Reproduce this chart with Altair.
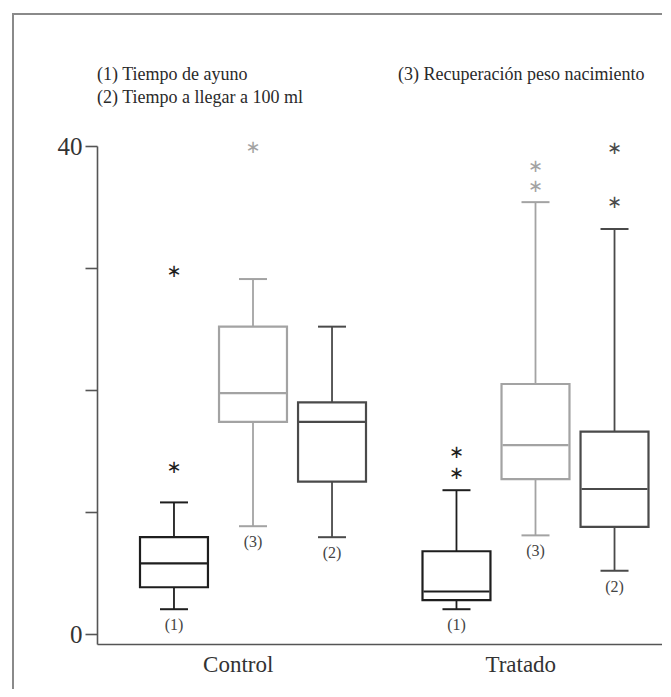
import altair as alt
import pandas as pd

# ---- data ----
groups = ["Control", "Control", "Control", "Tratado", "Tratado", "Tratado"]
series = ["(1)", "(3)", "(2)", "(1)", "(3)", "(2)"]
whisker_low = [2.05, 8.85, 7.95, 2.05, 8.1, 5.2]
q1 = [3.85, 17.4, 12.5, 2.8, 12.7, 8.8]
median = [5.8, 19.75, 17.4, 3.5, 15.5, 11.9]
q3 = [7.95, 25.2, 19.0, 6.8, 20.5, 16.6]
whisker_high = [10.8, 29.1, 25.2, 11.8, 35.4, 33.2]

outlier_group = ["Control", "Control", "Control", "Tratado", "Tratado",
                 "Tratado", "Tratado", "Tratado", "Tratado"]
outlier_series = ["(1)", "(1)", "(3)", "(1)", "(1)", "(3)", "(3)", "(2)", "(2)"]
outlier_value = [13.7, 29.8, 39.9, 13.2, 14.9, 36.7, 38.4, 35.4, 39.8]

legend_lines = ["(1) Tiempo de ayuno",
                "(2) Tiempo a llegar a 100 ml",
                "(3) Recuperación peso nacimiento"]
group_order = ["Control", "Tratado"]
series_order = ["(1)", "(3)", "(2)"]
y_ticks = [0, 10, 20, 30, 40]

# ---- tables ----
boxes = pd.DataFrame({"group": groups, "series": series, "lo": whisker_low,
                      "q1": q1, "med": median, "q3": q3, "hi": whisker_high})
outl = pd.DataFrame({"group": outlier_group, "series": outlier_series,
                     "value": outlier_value})

SERIF = "Liberation Serif"
AX = "#555555"

x_enc = alt.X("group:N",
              scale=alt.Scale(domain=group_order, paddingInner=0, paddingOuter=0),
              axis=alt.Axis(title=None, labelAngle=0, ticks=False,
                            labelFont=SERIF, labelFontSize=23, labelColor="#333333",
                            labelPadding=9, domainColor=AX, domainWidth=1.6))
xo_enc = alt.XOffset("series:N",
                     scale=alt.Scale(domain=series_order, range=[43, 269],
                                     paddingInner=0.14, paddingOuter=0))
y_scale = alt.Scale(domain=[-0.8, 40], nice=False, zero=False)
y_axis = alt.Axis(title=None, values=y_ticks, grid=False,
                  labelExpr="datum.value == 0 || datum.value == 40 ? datum.label : ''",
                  labelFont=SERIF, labelFontSize=25, labelColor="#333333",
                  labelPadding=3, tickSize=12, tickColor=AX, tickWidth=1.6,
                  domainColor=AX, domainWidth=1.6)
col = alt.Scale(domain=["(1)", "(2)", "(3)"],
                range=["#1e1e1e", "#4a4a4a", "#a3a3a3"])

base = alt.Chart(boxes)

whisk = base.mark_rule(strokeWidth=1.8).encode(
    x=x_enc, xOffset=xo_enc,
    y=alt.Y("lo:Q", scale=y_scale, axis=y_axis), y2="hi:Q",
    stroke=alt.Stroke("series:N", scale=col, legend=None))

caps = base.transform_fold(["lo", "hi"], as_=["k", "v"]).mark_tick(
    orient="horizontal", size=28, thickness=2, opacity=1).encode(
    x=x_enc, xOffset=xo_enc,
    y=alt.Y("v:Q", scale=y_scale, axis=y_axis),
    color=alt.Color("series:N", scale=col, legend=None))

box = base.mark_bar(fill="white", strokeWidth=2.2, opacity=1).encode(
    x=x_enc, xOffset=xo_enc,
    y=alt.Y("q1:Q", scale=y_scale, axis=y_axis), y2="q3:Q",
    stroke=alt.Stroke("series:N", scale=col, legend=None))

med = base.mark_tick(orient="horizontal", size=66, thickness=2.2, opacity=1).encode(
    x=x_enc, xOffset=xo_enc,
    y=alt.Y("med:Q", scale=y_scale, axis=y_axis),
    color=alt.Color("series:N", scale=col, legend=None))

lab = base.mark_text(font=SERIF, fontSize=16, baseline="middle", dy=16).encode(
    x=x_enc, xOffset=xo_enc,
    y=alt.Y("lo:Q", scale=y_scale, axis=y_axis),
    text="series:N",
    color=alt.value("#444444"))

stars = alt.Chart(outl).mark_text(font="DejaVu Sans", fontSize=18,
                                  baseline="middle", dy=1).encode(
    x=x_enc, xOffset=xo_enc,
    y=alt.Y("value:Q", scale=y_scale, axis=y_axis),
    text=alt.value("∗"),
    color=alt.Color("series:N", scale=col, legend=None))


def note(txt, xp, yp):
    return alt.Chart(pd.DataFrame({"t": [txt]})).mark_text(
        font=SERIF, fontSize=18, align="left", baseline="middle",
        color="#2a2a2a").encode(x=alt.value(xp), y=alt.value(yp), text="t:N")


n1 = note(legend_lines[0], 0, -71)
n2 = note(legend_lines[1], 0, -48)
n3 = note(legend_lines[2], 301, -71)

frame_left = alt.Chart(pd.DataFrame({"a": [0]})).mark_rule(
    color="#8a8a8a", strokeWidth=2).encode(
    x=alt.value(-84), y=alt.value(-132), y2=alt.value(620))
frame_top = alt.Chart(pd.DataFrame({"a": [0]})).mark_rule(
    color="#8a8a8a", strokeWidth=2).encode(
    x=alt.value(-85), x2=alt.value(640), y=alt.value(-132))

chart = alt.layer(whisk, caps, box, med, lab, stars, n1, n2, n3,
                  frame_left, frame_top).properties(
    width=565, height=498,
    autosize=alt.AutoSizeParams(type="none"),
    padding={"left": 89, "top": 138, "right": 0, "bottom": 45},
    background="white",
).configure_view(stroke=None)

chart.save("out.html", embed_options={"renderer": "svg", "actions": False})
